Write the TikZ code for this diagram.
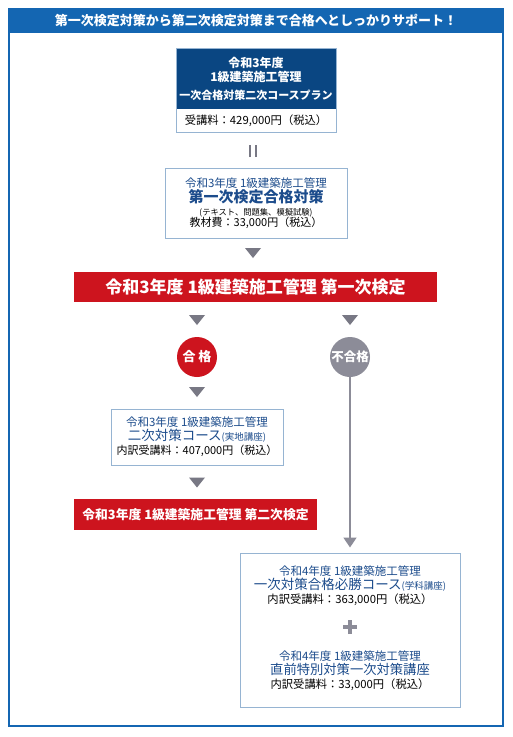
\documentclass[tikz,border=0pt]{standalone}
\usepackage{fontspec}
\setmainfont{Noto Sans CJK JP}
\usetikzlibrary{arrows.meta}
\definecolor{hdrblue}{RGB}{20,102,178}
\definecolor{darkblue}{RGB}{10,70,130}
\definecolor{titleblue}{RGB}{28,76,140}
\definecolor{boxline}{RGB}{150,180,210}
\definecolor{examred}{RGB}{205,20,30}
\definecolor{failgray}{RGB}{140,140,152}
\definecolor{trigray}{RGB}{120,120,132}
\newcommand\fsz[2]{\fontsize{#1}{#2}\selectfont}
\begin{document}
\begin{tikzpicture}[x=1pt,y=-1pt,
  header/.style={fill=hdrblue,text=white,font=\bfseries\fsz{13}{15},minimum width=496,minimum height=25,inner sep=0},
  box/.style={draw=boxline,line width=1,fill=white,align=center,inner sep=0},
  redbar/.style={fill=examred,text=white,inner sep=0},
  tri/.pic={\fill[trigray] (-8,-5)--(8,-5)--(0,5)--cycle;},
  eqbar/.style={trigray,line width=2.2},
  gline/.style={failgray,line width=1.5,-{Triangle[width=13,length=10]}},
  plusbar/.style={failgray,line width=4},
  circ/.style={circle,minimum size=40,inner sep=0,text=white}
]
\useasboundingbox (0,0) rectangle (512,737);
\fill[white] (0,0) rectangle (512,737);
\draw[hdrblue,line width=2] (9,9) rectangle (503,726);
\node[header] (hdr) at (256,20.5) {第一次検定対策から第二次検定対策まで合格へとしっかりサポート！};

% top plan box
\node[box,minimum width=160,minimum height=84] (top) at (256,90) {};
\node[fill=darkblue,minimum width=159,minimum height=60,inner sep=0,text=white,align=center,font=\bfseries\fsz{12}{14}] (topdark) at (256,78.5) {令和3年度\\1級建築施工管理\\[4pt]{\fsz{11}{13}一次合格対策二次コースプラン}};
\node[font=\fsz{11.3}{12}] (topprice) at (256,120.5) {受講料：429,000円（税込）};

% equals
\coordinate (eq) at (253,151);
\draw[eqbar] ([xshift=-3,yshift=-6]eq) -- ([xshift=-3,yshift=6]eq);
\draw[eqbar] ([xshift=3,yshift=-6]eq) -- ([xshift=3,yshift=6]eq);

% box2
\node[box,minimum width=182,minimum height=70,font=\fsz{11.5}{14.5}] (b2) at (256,203) {{\color{titleblue}令和3年度 1級建築施工管理}\\[1pt]{\color{titleblue}\bfseries\fsz{15}{15}第一次検定合格対策}\\[-2pt]{\fsz{8.3}{10}(テキスト、問題集、模擬試験)}\\[-3pt]{\fsz{11}{14}教材費：33,000円（税込）}};

\pic (t1) at (253,253) {tri};

% exam1
\node[redbar,minimum width=363,minimum height=30,font=\bfseries\fsz{17}{18}] (exam1) at (255.5,287) {令和3年度 1級建築施工管理 第一次検定};

\pic (t2) at (197,320) {tri};
\pic (t3) at (350,320) {tri};

\node[circ,fill=examred,font=\bfseries\fsz{13}{13}] (pass) at (197,357) {合 格};
\node[circ,fill=failgray,font=\bfseries\fsz{12.5}{13}] (fail) at (350,357) {不合格};

\pic (t4) at (197,392) {tri};

% box3
\node[box,minimum width=172,minimum height=56,font=\fsz{11.5}{15}] (b3) at (197,437) {{\color{titleblue}令和3年度 1級建築施工管理}\\[-1pt]{\color{titleblue}\fsz{13.5}{14}二次対策コース{\fsz{9.5}{10}(実地講座)}}\\[-1pt]{\fsz{11}{15}内訳受講料：407,000円（税込）}};

\pic (t5) at (197,482.5) {tri};

% exam2
\node[redbar,minimum width=243,minimum height=31,font=\bfseries\fsz{12.8}{14}] (exam2) at (195.5,514.5) {令和3年度 1級建築施工管理 第二次検定};

% box4
\node[box,minimum width=220,minimum height=154] (b4) at (350,630) {};
\node[align=center,inner sep=0,font=\fsz{11.5}{15}] (b4a) at (350,585.5) {{\color{titleblue}令和4年度 1級建築施工管理}\\[-1pt]{\color{titleblue}\fsz{13.5}{14}一次対策合格必勝コース{\fsz{9.5}{10}(学科講座)}}\\[-1pt]{\fsz{11.3}{15}内訳受講料：363,000円（税込）}};
\coordinate (plus) at (350,627);
\draw[plusbar] ([xshift=-7]plus) -- ([xshift=7]plus);
\draw[plusbar] ([yshift=-7]plus) -- ([yshift=7]plus);
\node[align=center,inner sep=0,font=\fsz{11.5}{15}] (b4b) at (350,671) {{\color{titleblue}令和4年度 1級建築施工管理}\\[-1pt]{\color{titleblue}\fsz{13.3}{14}直前特別対策一次対策講座}\\[-1pt]{\fsz{11.3}{15}内訳受講料：33,000円（税込）}};

% fail line
\draw[gline,shorten >=5] (fail.south) -- (fail.south |- b4.north);
\end{tikzpicture}
\end{document}
